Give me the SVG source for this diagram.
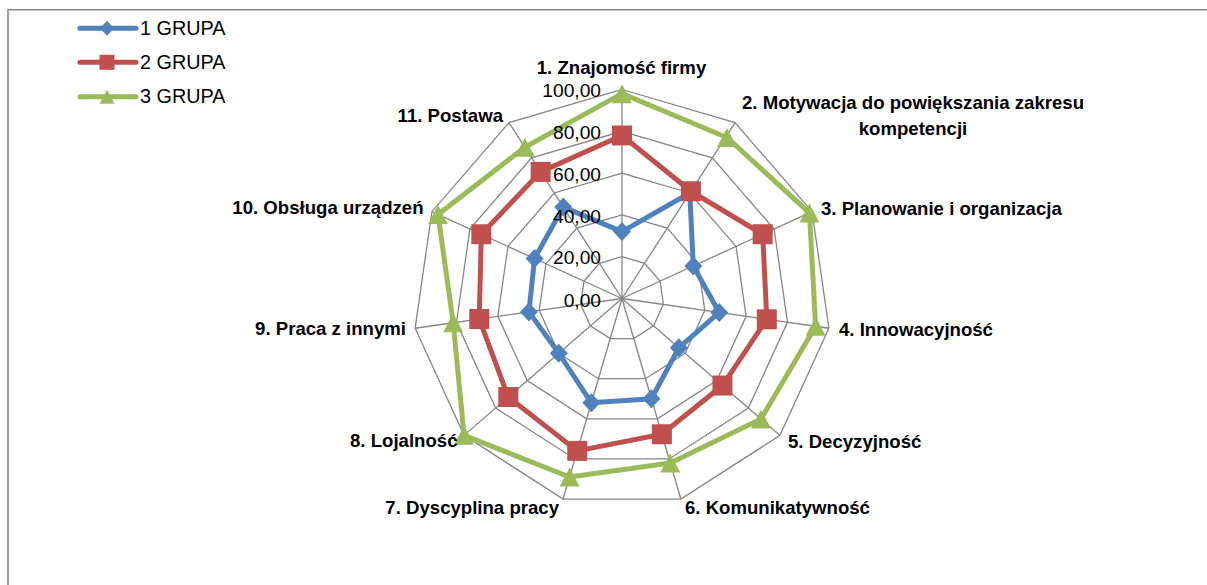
<svg xmlns="http://www.w3.org/2000/svg" xmlns:xlink="http://www.w3.org/1999/xlink" width="1207" height="585" viewBox="0 0 1207 585">
<style>
.frame{fill:none;stroke:#888888;stroke-width:1.6}
.grid{fill:none;stroke:#868686;stroke-width:1.3}
.spoke{stroke:#868686;stroke-width:1.3}
.s1{fill:none;stroke:#4F81BD;stroke-width:5;stroke-linejoin:round}
.s2{fill:none;stroke:#C0504D;stroke-width:5;stroke-linejoin:round}
.s3{fill:none;stroke:#9BBB59;stroke-width:5;stroke-linejoin:round}
.m1{fill:#4F81BD}
.m2{fill:#C0504D}
.m3{fill:#9BBB59}
.lbl{font-family:"Liberation Sans",Arial,sans-serif;font-weight:bold;font-size:18.6px;fill:#000}
.val{font-family:"Liberation Sans",Arial,sans-serif;font-size:19.2px;fill:#000;text-anchor:end}
.leg{font-family:"Liberation Sans",Arial,sans-serif;font-size:19.8px;fill:#000}
</style>
<defs>
<path id="dia" d="M0,-9.5 L9,0 L0,9.5 L-9,0 Z"/>
<rect id="sq" x="-10" y="-10" width="20" height="20"/>
<path id="tri" d="M0,-9.5 L10,9.5 L-10,9.5 Z"/>
<path id="dia-s" d="M0,-7.5 L7,0 L0,7.5 L-7,0 Z"/>
<rect id="sq-s" x="-7.5" y="-7.5" width="15" height="15"/>
<path id="tri-s" d="M0,-7 L7.5,7 L-7.5,7 Z"/>
</defs>
<rect x="0" y="0" width="1207" height="585" fill="#ffffff"/>
<path class="frame" d="M8,585 L8,9.7 L1207,9.7"/>

<g id="legend">
<g id="legend-1">
<line x1="80" y1="28.3" x2="136" y2="28.3" class="s1" stroke-linecap="round"/>
<use xlink:href="#dia-s" x="107" y="28.3" class="m1"/>
<text x="140" y="35" class="leg">1 GRUPA</text>
</g>
<g id="legend-2">
<line x1="80" y1="62.3" x2="136" y2="62.3" class="s2" stroke-linecap="round"/>
<use xlink:href="#sq-s" x="107" y="62.3" class="m2"/>
<text x="140" y="69" class="leg">2 GRUPA</text>
</g>
<g id="legend-3">
<line x1="80" y1="96.7" x2="136" y2="96.7" class="s3" stroke-linecap="round"/>
<use xlink:href="#tri-s" x="107" y="96.7" class="m3"/>
<text x="140" y="103" class="leg">3 GRUPA</text>
</g>
</g>

<g id="radar-grid" transform="translate(622,298.5)">
<polygon class="grid" points="0,-209 112.99,-175.83 190.11,-86.82 206.87,29.74 157.94,136.87 58.88,200.54 -58.88,200.54 -157.94,136.87 -206.87,29.74 -190.11,-86.82 -112.99,-175.83"/>
<polygon class="grid" points="0,-167.2 90.39,-140.66 152.09,-69.46 165.5,23.79 126.35,109.5 47.1,160.43 -47.1,160.43 -126.35,109.5 -165.5,23.79 -152.09,-69.46 -90.39,-140.66"/>
<polygon class="grid" points="0,-125.4 67.79,-105.5 114.07,-52.09 124.12,17.84 94.76,82.12 35.33,120.32 -35.33,120.32 -94.76,82.12 -124.12,17.84 -114.07,-52.09 -67.79,-105.5"/>
<polygon class="grid" points="0,-83.6 45.2,-70.33 76.04,-34.73 82.75,11.9 63.18,54.75 23.55,80.22 -23.55,80.22 -63.18,54.75 -82.75,11.9 -76.04,-34.73 -45.2,-70.33"/>
<polygon class="grid" points="0,-41.8 22.6,-35.17 38.02,-17.36 41.37,5.95 31.59,27.37 11.78,40.11 -11.78,40.11 -31.59,27.37 -41.37,5.95 -38.02,-17.36 -22.6,-35.17"/>
<line class="spoke" x1="0" y1="0" x2="0" y2="-209" stroke-width="2"/>
<line class="spoke" x1="0" y1="0" x2="112.99" y2="-175.83"/>
<line class="spoke" x1="0" y1="0" x2="190.11" y2="-86.82"/>
<line class="spoke" x1="0" y1="0" x2="206.87" y2="29.74"/>
<line class="spoke" x1="0" y1="0" x2="157.94" y2="136.87"/>
<line class="spoke" x1="0" y1="0" x2="58.88" y2="200.54"/>
<line class="spoke" x1="0" y1="0" x2="-58.88" y2="200.54"/>
<line class="spoke" x1="0" y1="0" x2="-157.94" y2="136.87"/>
<line class="spoke" x1="0" y1="0" x2="-206.87" y2="29.74"/>
<line class="spoke" x1="0" y1="0" x2="-190.11" y2="-86.82"/>
<line class="spoke" x1="0" y1="0" x2="-112.99" y2="-175.83"/>
</g>

<g id="series" transform="translate(622,298.5)">
<g id="series-1">
<polygon class="s1" points="0,-66.88 67.79,-105.5 71.29,-32.56 97.23,13.98 56.86,49.28 29.44,100.27 -30.62,104.28 -63.18,54.75 -93.09,13.38 -87.45,-39.94 -58.75,-91.43"/>
<g class="m1">
<use xlink:href="#dia" x="0" y="-66.88"/><use xlink:href="#dia" x="67.79" y="-105.5"/><use xlink:href="#dia" x="71.29" y="-32.56"/><use xlink:href="#dia" x="97.23" y="13.98"/><use xlink:href="#dia" x="56.86" y="49.28"/><use xlink:href="#dia" x="29.44" y="100.27"/><use xlink:href="#dia" x="-30.62" y="104.28"/><use xlink:href="#dia" x="-63.18" y="54.75"/><use xlink:href="#dia" x="-93.09" y="13.38"/><use xlink:href="#dia" x="-87.45" y="-39.94"/><use xlink:href="#dia" x="-58.75" y="-91.43"/>
</g>
</g>
<g id="series-2">
<polygon class="s2" points="0,-163.02 68.92,-107.26 140.68,-64.25 144.81,20.82 100.45,87.05 39.86,135.76 -44.75,152.4 -113.72,98.55 -142.74,20.52 -140.68,-64.25 -81.35,-126.6"/>
<g class="m2">
<use xlink:href="#sq" x="0" y="-163.02"/><use xlink:href="#sq" x="68.92" y="-107.26"/><use xlink:href="#sq" x="140.68" y="-64.25"/><use xlink:href="#sq" x="144.81" y="20.82"/><use xlink:href="#sq" x="100.45" y="87.05"/><use xlink:href="#sq" x="39.86" y="135.76"/><use xlink:href="#sq" x="-44.75" y="152.4"/><use xlink:href="#sq" x="-113.72" y="98.55"/><use xlink:href="#sq" x="-142.74" y="20.52"/><use xlink:href="#sq" x="-140.68" y="-64.25"/><use xlink:href="#sq" x="-81.35" y="-126.6"/>
</g>
</g>
<g id="series-3">
<polygon class="s3" points="0,-204.82 105,-161 187.44,-85.6 193.63,27.84 138.99,120.45 48.28,164.44 -52.4,178.48 -157.94,136.87 -168.8,24.27 -184.02,-84.04 -97.17,-151.22"/>
<g class="m3">
<use xlink:href="#tri" x="0" y="-204.82"/><use xlink:href="#tri" x="105" y="-161"/><use xlink:href="#tri" x="187.44" y="-85.6"/><use xlink:href="#tri" x="193.63" y="27.84"/><use xlink:href="#tri" x="138.99" y="120.45"/><use xlink:href="#tri" x="48.28" y="164.44"/><use xlink:href="#tri" x="-52.4" y="178.48"/><use xlink:href="#tri" x="-157.94" y="136.87"/><use xlink:href="#tri" x="-168.8" y="24.27"/><use xlink:href="#tri" x="-184.02" y="-84.04"/><use xlink:href="#tri" x="-97.17" y="-151.22"/>
</g>
</g>
</g>

<g id="value-axis">
<text class="val" x="601" y="97.3">100,00</text>
<text class="val" x="601" y="139.3">80,00</text>
<text class="val" x="601" y="181">60,00</text>
<text class="val" x="601" y="222.7">40,00</text>
<text class="val" x="601" y="264.3">20,00</text>
<text class="val" x="601" y="306.5">0,00</text>
</g>

<g id="category-labels">
<g id="cat-1"><text class="lbl" x="621.5" y="74" text-anchor="middle">1. Znajomość firmy</text></g>
<g id="cat-2"><text class="lbl" x="913" y="108.5" text-anchor="middle">2. Motywacja do powiększania zakresu</text><text class="lbl" x="913" y="134.5" text-anchor="middle">kompetencji</text></g>
<g id="cat-3"><text class="lbl" x="821" y="215">3. Planowanie i organizacja</text></g>
<g id="cat-4"><text class="lbl" x="839" y="336">4. Innowacyjność</text></g>
<g id="cat-5"><text class="lbl" x="788" y="448">5. Decyzyjność</text></g>
<g id="cat-6"><text class="lbl" x="685" y="513.5">6. Komunikatywność</text></g>
<g id="cat-7"><text class="lbl" x="559" y="513.5" text-anchor="end">7. Dyscyplina pracy</text></g>
<g id="cat-8"><text class="lbl" x="457.5" y="447" text-anchor="end">8. Lojalność</text></g>
<g id="cat-9"><text class="lbl" x="406" y="335" text-anchor="end">9. Praca z innymi</text></g>
<g id="cat-10"><text class="lbl" x="423.5" y="214" text-anchor="end">10. Obsługa urządzeń</text></g>
<g id="cat-11"><text class="lbl" x="503" y="122" text-anchor="end">11. Postawa</text></g>
</g>
</svg>
